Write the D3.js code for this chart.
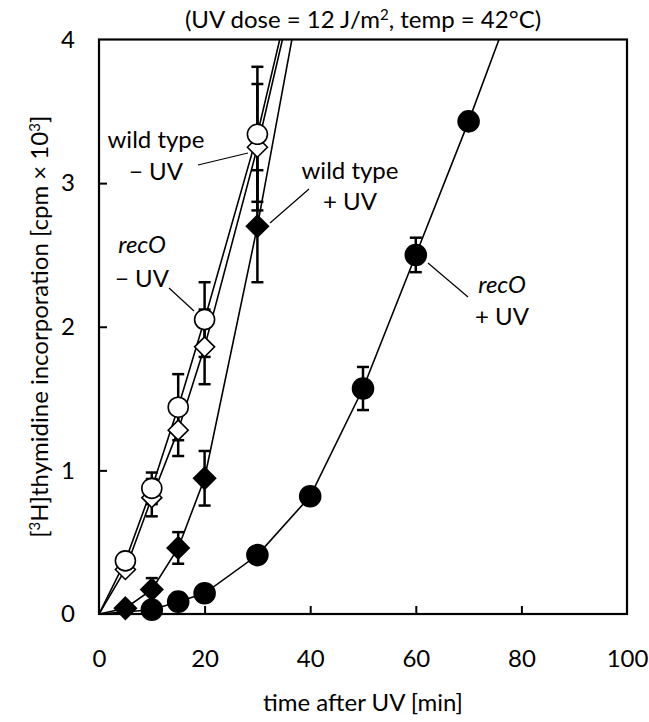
<!DOCTYPE html>
<html>
<head>
<meta charset="utf-8">
<script src="https://cdn.jsdelivr.net/npm/d3@7"></script>
<style>
  html, body { margin: 0; padding: 0; background: #fff; }
  svg text { font-family: Lato, "Open Sans", sans-serif; fill: #000; }
</style>
</head>
<body>
<svg id="chart" width="649" height="722"></svg>
<script>
// ---- data ----
const timesMinus = [0, 5, 10, 15, 20, 30, 40];
const recOMinus    = [0, 0.37, 0.875, 1.44, 2.05, 3.34, 4.90];
const recOMinusErr = [0, 0, 0.11, 0.23, 0.26, 0.47, 0];
const wtMinus      = [0, 0.31, 0.81, 1.28, 1.86, 3.25, 4.83];
const wtMinusErr   = [0, 0, 0.13, 0.18, 0.26, 0.44, 0];

const timesWtPlus = [0, 5, 10, 15, 20, 30, 40];
const wtPlus      = [0, 0.04, 0.17, 0.46, 0.945, 2.70, 4.69];
const wtPlusErr   = [0, 0, 0.08, 0.11, 0.19, 0.39, 0];

const timesRecOPlus = [0, 10, 15, 20, 30, 40, 50, 60, 70, 80];
const recOPlus      = [0, 0.03, 0.086, 0.144, 0.41, 0.82, 1.57, 2.50, 3.43, 4.42];
const recOPlusErr   = [0, 0, 0, 0, 0, 0, 0.15, 0.12, 0, 0];

const xTicks = [0, 20, 40, 60, 80, 100];
const yTicks = [0, 1, 2, 3, 4];

// ---- layout ----
const svg = d3.select("#chart");
const L = 99, R = 627, T = 39.5, B = 614;
const FS = "24px", SUP = "15px";
const x = d3.scaleLinear().domain([0, 100]).range([L, R]);
const y = d3.scaleLinear().domain([0, 4]).range([B, T]);

svg.append("defs").append("clipPath").attr("id", "plotclip")
  .append("rect").attr("x", L).attr("y", T).attr("width", R - L).attr("height", B - T);

function series(times, vals, errs) {
  return times.map((t, i) => ({ t, v: vals[i], e: errs[i] }));
}
const sRecOMinus = series(timesMinus, recOMinus, recOMinusErr);
const sWtMinus   = series(timesMinus, wtMinus, wtMinusErr);
const sWtPlus    = series(timesWtPlus, wtPlus, wtPlusErr);
const sRecOPlus  = series(timesRecOPlus, recOPlus, recOPlusErr);

// axes (ticks inside)
const gx = svg.append("g").attr("transform", `translate(0,${B})`)
  .call(d3.axisBottom(x).tickValues(xTicks).tickFormat(d3.format("d"))
    .tickSizeInner(-8).tickSizeOuter(0).tickPadding(36));
const gy = svg.append("g").attr("transform", `translate(${L},0)`)
  .call(d3.axisLeft(y).tickValues(yTicks).tickFormat(d3.format("d"))
    .tickSizeInner(-8).tickSizeOuter(0).tickPadding(24));
[gx, gy].forEach(g => {
  g.select(".domain").remove();
  g.selectAll(".tick line").attr("stroke", "#000").attr("stroke-width", 2);
  g.selectAll(".tick text").style("font-size", FS).style("font-family", "Lato, sans-serif");
});
gx.selectAll(".tick").filter(d => d === 0 || d === 100).select("line").remove();
gy.selectAll(".tick").filter(d => d === 0 || d === 4).select("line").remove();

// frame
svg.append("rect").attr("x", L).attr("y", T).attr("width", R - L).attr("height", B - T)
  .attr("fill", "none").attr("stroke", "#000").attr("stroke-width", 2.2);

const plot = svg.append("g").attr("clip-path", "url(#plotclip)");
const line = d3.line().x(d => x(d.t)).y(d => y(d.v));
[sRecOMinus, sWtMinus, sWtPlus, sRecOPlus].forEach(s => {
  plot.append("path").datum(s).attr("d", line)
    .attr("fill", "none").attr("stroke", "#000").attr("stroke-width", 1.6);
});

// error bars
function errBars(s) {
  const g = svg.append("g");
  s.filter(d => d.e > 0 && d.v <= 4).forEach(d => {
    const cx = x(d.t), y1 = y(d.v + d.e), y2 = y(d.v - d.e);
    g.append("line").attr("x1", cx).attr("x2", cx).attr("y1", y1).attr("y2", y2)
      .attr("stroke", "#000").attr("stroke-width", 2.5);
    [y1, y2].forEach(yy => g.append("line").attr("x1", cx - 6).attr("x2", cx + 6)
      .attr("y1", yy).attr("y2", yy).attr("stroke", "#000").attr("stroke-width", 2.5));
  });
}
[sWtPlus, sRecOPlus, sWtMinus, sRecOMinus].forEach(errBars);

// markers
const diamond = s => `M0,${-s}L${s},0L0,${s}L${-s},0Z`;
function markers(s, kind, filled) {
  const pts = s.filter(d => d.t > 0 && d.v <= 4);
  const g = svg.append("g");
  pts.forEach(d => {
    if (kind === "circle") {
      g.append("circle").attr("cx", x(d.t)).attr("cy", y(d.v)).attr("r", filled ? 10.5 : 10)
        .attr("fill", filled ? "#000" : "#fff").attr("stroke", "#000").attr("stroke-width", 1.6);
    } else {
      g.append("path").attr("d", diamond(filled ? 11 : 10))
        .attr("transform", `translate(${x(d.t)},${y(d.v)})`)
        .attr("fill", filled ? "#000" : "#fff").attr("stroke", "#000").attr("stroke-width", 1.6);
    }
  });
}
markers(sWtPlus, "diamond", true);
markers(sRecOPlus, "circle", true);
markers(sWtMinus, "diamond", false);
markers(sRecOMinus, "circle", false);

// title
const title = svg.append("text").attr("x", (L + R) / 2).attr("y", 28)
  .attr("text-anchor", "middle").style("font-size", FS);
title.append("tspan").text("(UV dose = 12 J/m");
title.append("tspan").attr("dy", -8).style("font-size", SUP).text("2");
title.append("tspan").attr("dy", 8).text(", temp = 42°C)");

// axis titles
svg.append("text").attr("x", (L + R) / 2).attr("y", 711).attr("text-anchor", "middle")
  .style("font-size", FS).text("time after UV [min]");
const yt = svg.append("text").attr("transform", `translate(48,${(T + B) / 2}) rotate(-90)`)
  .attr("text-anchor", "middle").style("font-size", FS);
yt.append("tspan").text("[");
yt.append("tspan").attr("dy", -8).style("font-size", SUP).text("3");
yt.append("tspan").attr("dy", 8).text("H]thymidine incorporation [cpm × 10");
yt.append("tspan").attr("dy", -8).style("font-size", SUP).text("3");
yt.append("tspan").attr("dy", 8).text("]");

// annotations
function label(cx, y1, y2, l1, l2, italic) {
  svg.append("text").attr("x", cx).attr("y", y1).attr("text-anchor", "middle")
    .style("font-size", FS).style("font-style", italic ? "italic" : "normal").text(l1);
  svg.append("text").attr("x", cx).attr("y", y2).attr("text-anchor", "middle")
    .style("font-size", FS).text(l2);
}
function leader(x1, y1, x2, y2) {
  svg.append("line").attr("x1", x1).attr("y1", y1).attr("x2", x2).attr("y2", y2)
    .attr("stroke", "#000").attr("stroke-width", 1.2);
}
label(156, 148, 180, "wild type", "− UV", false);
leader(198, 165, 248, 153);
label(350, 179, 210, "wild type", "+ UV", false);
leader(270, 223, 309, 189);
label(142, 253, 287, "recO", "− UV", true);
leader(169, 288, 194, 311);
label(502, 293, 325, "recO", "+ UV", true);
leader(428, 263, 468, 297);
</script>
</body>
</html>
